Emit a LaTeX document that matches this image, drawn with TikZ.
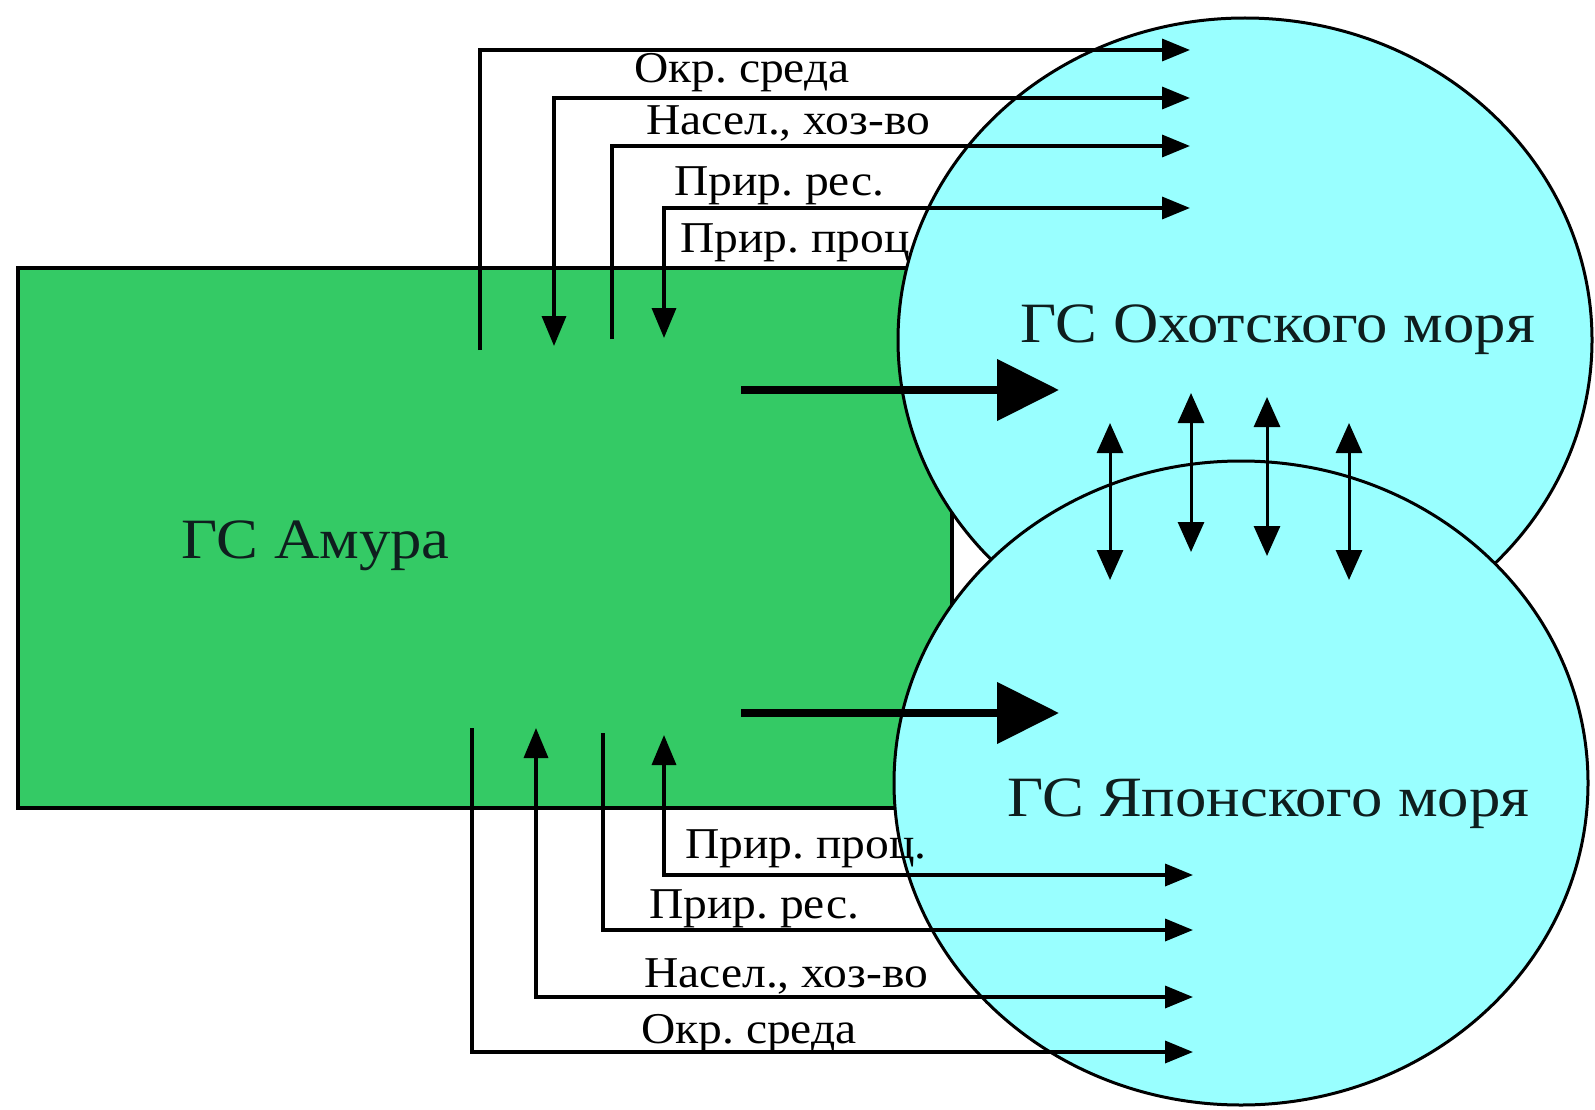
\documentclass[tikz,border=0pt]{standalone}
\usepackage{fontspec}
\setmainfont{Liberation Serif}
\usetikzlibrary{shapes.geometric,arrows.meta}
\definecolor{amurgreen}{RGB}{52,202,101}
\definecolor{seacyan}{RGB}{153,255,255}
\definecolor{inkdark}{RGB}{15,30,30}
\frenchspacing
\begin{document}
\begin{tikzpicture}[x=1pt,y=-1pt,
  amurbox/.style={draw=black, line width=4pt, fill=amurgreen, rectangle, inner sep=0pt, anchor=north west},
  sea/.style={draw=black, line width=3pt, fill=seacyan, ellipse, inner sep=0pt, minimum width=694pt, minimum height=644pt},
  bigtitle/.style={font=\fontsize{57}{60}\selectfont, text=inkdark, inner sep=0pt, anchor=base west},
  flowlabel/.style={font=\fontsize{44}{46}\selectfont, text=black, inner sep=0pt, anchor=base west},
  flow/.style={line width=3.5pt, -{Triangle[length=28pt,width=22pt]}},
  flowboth/.style={line width=3.5pt, {Triangle[length=30pt,width=24pt]}-{Triangle[length=28pt,width=22pt]}},
  bigflow/.style={line width=8pt, -{Triangle[length=62pt,width=60pt]}},
  exch/.style={line width=3pt, {Triangle[length=30pt,width=26pt]}-{Triangle[length=30pt,width=26pt]}},
]
\fill[white] (0,0) rectangle (1595,1110);
\useasboundingbox (0,0) rectangle (1595,1110);

% Amur system
\node[amurbox, minimum width=934pt, minimum height=540pt] (amur) at (16,266) {};
\node[bigtitle] (tamur) at (181,558) {\scalebox{1.1}[1]{ГС Амура}};

% top labels
\node[flowlabel] (lt1) at (634,83) {\scalebox{1.08}[1]{Окр. среда}};
\node[flowlabel] (lt2) at (646,135) {\scalebox{1.08}[1]{Насел., хоз-во}};
\node[flowlabel] (lt3) at (674,196) {\scalebox{1.08}[1]{Прир. рес.}};
\node[flowlabel] (lt4) at (680,252) {\scalebox{1.08}[1]{Прир. проц.}};

% seas
\node[sea] (okh) at (1245,340) {};
\node[sea] (jap) at (1241,783) {};
\node[bigtitle] (tokh) at (1020,342) {\scalebox{1.1}[1]{ГС Охотского моря}};
\node[bigtitle] (tjap) at (1007,816) {\scalebox{1.1}[1]{ГС Японского моря}};

% bottom labels
\node[flowlabel] (lb4) at (685,858) {\scalebox{1.08}[1]{Прир. проц.}};
\node[flowlabel] (lb3) at (649,918) {\scalebox{1.08}[1]{Прир. рес.}};
\node[flowlabel] (lb2) at (644,987) {\scalebox{1.08}[1]{Насел., хоз-во}};
\node[flowlabel] (lb1) at (641,1043) {\scalebox{1.08}[1]{Окр. среда}};

% top connectors
\coordinate (u1a) at (480,350);  \coordinate (u1o) at (1190,50);
\coordinate (u2a) at (554,346);  \coordinate (u2o) at (1190,98);
\coordinate (u3a) at (612,339);  \coordinate (u3o) at (1190,146);
\coordinate (u4a) at (664,338);  \coordinate (u4o) at (1190,208);
\draw[flow] (u1a) |- (u1o);
\draw[flowboth] (u2a) |- (u2o);
\draw[flow] (u3a) |- (u3o);
\draw[flowboth] (u4a) |- (u4o);

% bottom connectors
\coordinate (d1a) at (472,728);  \coordinate (d1j) at (1193,1052);
\coordinate (d2a) at (536,728);  \coordinate (d2j) at (1193,997);
\coordinate (d3a) at (603,733);  \coordinate (d3j) at (1193,930);
\coordinate (d4a) at (664,735);  \coordinate (d4j) at (1193,875);
\draw[flow] (d1a) |- (d1j);
\draw[flowboth] (d2a) |- (d2j);
\draw[flow] (d3a) |- (d3j);
\draw[flowboth] (d4a) |- (d4j);

% main flows
\coordinate (m1s) at (741,390); \coordinate (m1e) at (1059,390);
\coordinate (m2s) at (741,713); \coordinate (m2e) at (1059,713);
\draw[bigflow] (m1s) -- (m1e);
\draw[bigflow] (m2s) -- (m2e);

% exchange between seas
\coordinate (x1t) at (1110,423); \coordinate (x1b) at (1110,580);
\coordinate (x2t) at (1191,393); \coordinate (x2b) at (1191,552);
\coordinate (x3t) at (1267,397); \coordinate (x3b) at (1267,556);
\coordinate (x4t) at (1349,423); \coordinate (x4b) at (1349,580);
\draw[exch] (x1t) -- (x1b);
\draw[exch] (x2t) -- (x2b);
\draw[exch] (x3t) -- (x3b);
\draw[exch] (x4t) -- (x4b);
\end{tikzpicture}
\end{document}
